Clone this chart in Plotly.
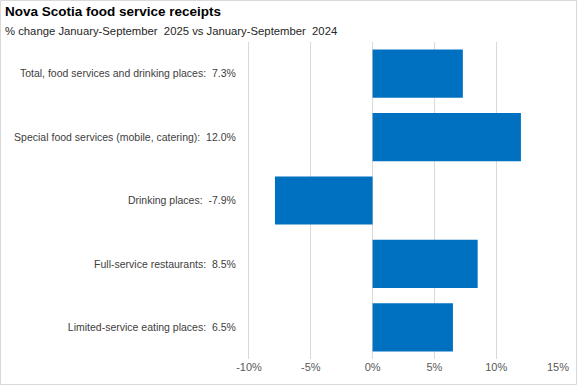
import plotly.graph_objects as go

categories = [
    "Total, food services and drinking places",
    "Special food services (mobile, catering)",
    "Drinking places",
    "Full-service restaurants",
    "Limited-service eating places",
]
values = [7.3, 12.0, -7.9, 8.5, 6.5]
tick_vals = [-10, -5, 0, 5, 10, 15]
tick_text = ["-10%", "-5%", "0%", "5%", "10%", "15%"]

labels = [f"{c}:  {v:.1f}%" for c, v in zip(categories, values)]

W, H = 577, 385
mt, mb, ml, mr = 42, 26, 249, 19
ph = H - mt - mb
pw = W - ml - mr


def px(x):
    return (x - ml) / pw


def py(y):
    return 1 + (mt - y) / ph


FONT = "Liberation Sans, Arial, sans-serif"

fig = go.Figure(go.Bar(
    x=values, y=labels, orientation="h",
    marker=dict(color="#0070C0", line=dict(width=0)),
    width=0.76,
))

fig.update_layout(
    width=W, height=H,
    margin=dict(l=ml, r=mr, t=mt, b=mb, autoexpand=False),
    paper_bgcolor="white", plot_bgcolor="white",
    font=dict(family=FONT, size=11, color="#404040"),
    showlegend=False,
    annotations=[
        dict(text="<b>Nova Scotia food service receipts</b>", x=px(3), y=py(12),
             xref="paper", yref="paper", xanchor="left", yanchor="middle", showarrow=False,
             font=dict(size=13.5, color="#000000", family=FONT)),
        dict(text="% change January-September  2025 vs January-September  2024", x=px(3), y=py(31),
             xref="paper", yref="paper", xanchor="left", yanchor="middle", showarrow=False,
             font=dict(size=11.3, color="#262626", family=FONT)),
    ],
    shapes=[dict(type="rect", xref="paper", yref="paper",
                 x0=px(0.5), x1=px(W - 0.5), y0=py(H - 0.5), y1=py(0.5),
                 line=dict(color="#D9D9D9", width=1))],
)

fig.update_xaxes(range=[-10.0, 15.0], tickvals=tick_vals, ticktext=tick_text,
                 showgrid=True, gridcolor="#D9D9D9", gridwidth=1, zeroline=False,
                 showline=False, ticks="", automargin=False,
                 tickfont=dict(size=11, color="#595959"))
fig.update_yaxes(autorange="reversed", showgrid=False, zeroline=False,
                 showline=True, linecolor="#D9D9D9", linewidth=1,
                 ticks="", ticklabelstandoff=10, automargin=False,
                 tickfont=dict(size=10.5, color="#404040"))

fig.write_html("out.html", config={"displayModeBar": False},
               post_script="document.body.style.margin='0';")
